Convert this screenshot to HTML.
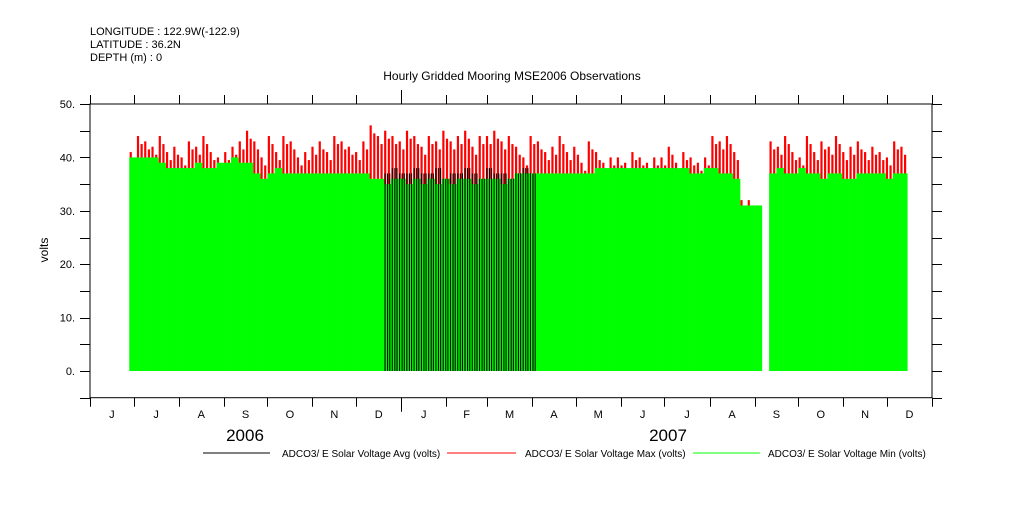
<!DOCTYPE html>
<html><head><meta charset="utf-8"><style>
body{margin:0;background:#fff;width:1009px;height:504px;overflow:hidden}
svg text{font-family:"Liberation Sans",sans-serif;fill:#000}
</style></head><body>
<svg id="chart" width="1009" height="504" xmlns="http://www.w3.org/2000/svg">
<g font-size="11">
<text x="90" y="35" font-size="11">LONGITUDE : 122.9W(-122.9)</text>
<text x="90" y="48" font-size="11">LATITUDE : 36.2N</text>
<text x="90" y="61" font-size="11">DEPTH (m) : 0</text>
<text x="512" y="80" text-anchor="middle" font-size="12">Hourly Gridded Mooring MSE2006 Observations</text>
</g>
<g id="marks"></g>
<g id="axes"></g>
<text x="48" y="250" transform="rotate(-90 48 250)" text-anchor="middle" font-size="12">volts</text>
<text x="245" y="441" text-anchor="middle" font-size="17">2006</text>
<text x="668" y="441" text-anchor="middle" font-size="17">2007</text>
<g font-size="10">
<line x1="203" y1="453" x2="270" y2="453" stroke="#000"/>
<text x="282" y="457">ADCO3/ E Solar Voltage Avg (volts)</text>
<line x1="447" y1="453" x2="516" y2="453" stroke="#f00"/>
<text x="525" y="457">ADCO3/ E Solar Voltage Max (volts)</text>
<line x1="693" y1="453" x2="760" y2="453" stroke="#0f0"/>
<text x="768" y="457">ADCO3/ E Solar Voltage Min (volts)</text>
</g>
</svg>
<script>
const binStartDay = 27; // days since 2006-06-01
const binDays = 5;
const minTop = [40,40,40,40,39,38,38, 38,38,39,38,38,39, 39,40,39,39,37,36, 37,38,37,37,37,37, 37,37,37,37,37,37, 37,37,36,36,35,36, 36,35,36,35,36,35, 36,35,36,36,35,36, 36,36,35,36,37,37, 37,37,37,37,37,37, 37,37,37,38,38,38, 38,38,38,38,38,38,
 38,38,38,38,37,37,38, 38,37,37,36, 31,31,31, 0, 37,38,37,37,38, 37,37,36,37,37,36, 36,37,37,37,37,36,37,37];
const maxTop = [41,44,43,42,44,41,42, 40,43,42,44,41,40, 41,42,43,45,43,40, 44,41,44,43,40,41, 42,43,41,44,43,42, 41,43,46,44,45,44, 43,45,44,42,44,43, 45,43,44,45,42,44, 44,45,43,44,42,40, 44,43,41,42,44,41, 42,39,43,41,39,40, 40,39,41,40,39,40,
 40,42,39,41,40,39,40, 44,43,44,41, 32,32,31, 0, 43,42,44,41,40, 44,41,43,42,44,41, 42,43,41,42,41,40,43,42];
const avgStart = 35;
const avgVals = [37,38,37,37,38,37,37,38,36,37,37,38,37,36,38,37,37,36,37,38,37];
const yTicks = [0,10,20,30,40,50];
const monthLabels = ["J","J","A","S","O","N","D","J","F","M","A","M","J","J","A","S","O","N","D"];
const monthStartDays = [0,30,61,92,122,153,183,214,245,273,304,334,365,395,426,457,487,518,548,579];

const X0=90,X1=932,Y0=104,Y1=397.7,DAYS=579,VMIN=-5,VMAX=50;
const xs=d=>X0+(X1-X0)*d/DAYS;
const ys=v=>Y1-(Y1-Y0)*(v-VMIN)/(VMAX-VMIN);
const NS="http://www.w3.org/2000/svg";
function mk(parent,tag,attrs){const e=document.createElementNS(NS,tag);for(const k in attrs)e.setAttribute(k,attrs[k]);parent.appendChild(e);return e;}
const marks=document.getElementById('marks');
const bw=xs(binDays)-xs(0);
maxTop.forEach((v,i)=>{
  const d=binStartDay+i*binDays;
  [0.05,0.55].forEach((f,j)=>{
    const vv=j?Math.max(v-1.5,0):v;
    const r=mk(marks,'rect',{x:xs(d+binDays*f),y:ys(vv),width:bw*0.3,height:ys(0)-ys(vv),fill:'#f00'});
    
    
  });
});
minTop.forEach((v,i)=>{
  const d=binStartDay+i*binDays;
  const r=mk(marks,'rect',{x:xs(d),y:ys(v),width:bw+0.3,height:ys(0)-ys(v),fill:'#0f0'});
  
  
});
avgVals.forEach((v,i)=>{
  const d=binStartDay+(avgStart+i)*binDays;
  [0.1,0.45,0.75].forEach(f=>{
    const r=mk(marks,'rect',{x:xs(d+binDays*f),y:ys(v),width:bw*0.15,height:ys(0)-ys(v),fill:'#000'});
    
    
  });
});
const ax=document.getElementById('axes');
const st={stroke:'#000','stroke-width':1,fill:'none'};
mk(ax,'rect',Object.assign({x:X0,y:Y0,width:X1-X0,height:Y1-Y0},st));
for(let v=-5;v<=50;v+=5){
  const y=Math.round(ys(v))+0.5;
  mk(ax,'line',Object.assign({x1:X0-10,x2:X0,y1:y,y2:y},st));
  mk(ax,'line',Object.assign({x1:X1,x2:X1+10,y1:y,y2:y},st));
}
yTicks.forEach(v=>{
  const t=mk(ax,'text',{x:X0-15,y:ys(v)+4,'text-anchor':'end','font-size':'11'});
  t.textContent=v+'.';
  
  
});
monthStartDays.forEach((d,i)=>{
  const x=Math.round(xs(d))+0.5;
  const L=(d===214)?14:9;
  mk(ax,'line',Object.assign({x1:x,x2:x,y1:Y1,y2:Y1+L},st));
  mk(ax,'line',Object.assign({x1:x,x2:x,y1:Y0,y2:Y0-L},st));
  if(i<monthLabels.length){
    const t=mk(ax,'text',{x:xs((d+monthStartDays[i+1])/2),y:418,'text-anchor':'middle','font-size':'11'});
    t.textContent=monthLabels[i];
    
    
  }
});
</script>
</body></html>
